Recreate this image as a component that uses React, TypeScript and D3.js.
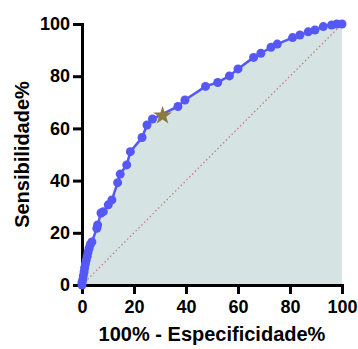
import { useEffect, useRef } from "react";
import * as d3 from "d3";

// 100% - Especificidade% (x) e Sensibilidade% (y)
const fpr = [
  0, 0, 0.3, 0.5, 0.8, 1, 1.3, 1.6, 2, 2.3, 2.7, 3.2, 3.8, 5.7, 6.0, 7.3, 8.2,
  10.1, 11.5, 13.7, 14.7, 17.2, 18.6, 23.1, 25, 27.1, 36.9, 39.6, 47.5, 52.2,
  56.7, 60, 66, 68.8, 72.7, 75.1, 81, 83.8, 87, 89.6, 92.8, 96, 98, 100,
];
const tpr = [
  0, 1, 2, 3.5, 5, 6.5, 8, 9.5, 11, 12.5, 14, 15.5, 16.5, 21.7, 23, 27.6, 28.1,
  30.7, 32.6, 39.2, 42.5, 46, 51.1, 56.5, 61.3, 63.6, 68.4, 70.9, 76.1, 77.6,
  80.1, 82.8, 87.2, 88.8, 91.1, 92.3, 94.8, 95.8, 97, 97.7, 99, 99.6, 100, 100,
];
// ponto de corte destacado
const cutoff = [31, 64.9];
const xTicks = [0, 20, 40, 60, 80, 100];
const yTicks = [0, 20, 40, 60, 80, 100];

export default function App() {
  const svgRef = useRef<SVGSVGElement>(null);

  useEffect(() => {
    if (!svgRef.current) return;
    const width = 358;
    const height = 349;
    const m = { left: 82, right: 16, top: 24, bottom: 64 };

    const svg = d3.select(svgRef.current);
    svg.selectAll("*").remove();

    const x = d3.scaleLinear().domain([0, 100]).range([m.left, width - m.right]);
    const y = d3.scaleLinear().domain([0, 100]).range([height - m.bottom, m.top]);

    const pts = fpr.map((v, i) => [v, tpr[i]] as [number, number]);

    // área sob a curva
    const area = d3
      .area<[number, number]>()
      .x((d) => x(d[0]))
      .y0(y(0))
      .y1((d) => y(d[1]));
    svg.append("path").attr("d", area(pts)).attr("fill", "#d5e3e3");

    // linha de referência
    svg
      .append("line")
      .attr("x1", x(0))
      .attr("y1", y(0))
      .attr("x2", x(100))
      .attr("y2", y(100))
      .attr("stroke", "#c47f7f")
      .attr("stroke-width", 1.3)
      .attr("stroke-dasharray", "1.5,2.5");

    // eixos
    const font = "Liberation Sans, Arial, sans-serif";
    const xAxis = svg
      .append("g")
      .attr("transform", `translate(0,${y(0)})`)
      .call(d3.axisBottom(x).tickValues(xTicks).tickSize(9).tickPadding(6).tickSizeOuter(0));
    const yAxis = svg
      .append("g")
      .attr("transform", `translate(${x(0)},0)`)
      .call(d3.axisLeft(y).tickValues(yTicks).tickSize(9).tickPadding(3).tickSizeOuter(0));
    [xAxis, yAxis].forEach((g) => {
      g.select(".domain").attr("stroke", "#000").attr("stroke-width", 3).attr("stroke-linecap", "square");
      g.selectAll(".tick line").attr("stroke", "#000").attr("stroke-width", 3);
      g.selectAll(".tick text")
        .attr("fill", "#000")
        .attr("font-family", font)
        .attr("font-size", 18)
        .attr("font-weight", "bold");
    });

    // curva ROC
    const line = d3
      .line<[number, number]>()
      .x((d) => x(d[0]))
      .y((d) => y(d[1]));
    svg
      .append("path")
      .attr("d", line(pts))
      .attr("fill", "none")
      .attr("stroke", "#5558f5")
      .attr("stroke-width", 2.5);
    svg
      .append("g")
      .selectAll("circle")
      .data(pts)
      .join("circle")
      .attr("cx", (d) => x(d[0]))
      .attr("cy", (d) => y(d[1]))
      .attr("r", 4.5)
      .attr("fill", "#5558f5");

    svg
      .append("path")
      .attr("d", d3.symbol(d3.symbolStar, 110)())
      .attr("transform", `translate(${x(cutoff[0])},${y(cutoff[1])})`)
      .attr("fill", "#8b7b3e");

    // títulos
    svg
      .append("text")
      .attr("x", (x(0) + x(100)) / 2)
      .attr("y", 341)
      .attr("text-anchor", "middle")
      .attr("font-family", font)
      .attr("font-size", 20)
      .attr("font-weight", "bold")
      .text("100% - Especificidade%");
    svg
      .append("text")
      .attr("transform", `translate(29,${(y(0) + y(100)) / 2}) rotate(-90)`)
      .attr("text-anchor", "middle")
      .attr("font-family", font)
      .attr("font-size", 20)
      .attr("font-weight", "bold")
      .text("Sensibilidade%");
  }, []);

  return (
    <svg
      ref={svgRef}
      width={358}
      height={349}
      style={{ position: "fixed", left: 0, top: 0, background: "#fff" }}
    />
  );
}
